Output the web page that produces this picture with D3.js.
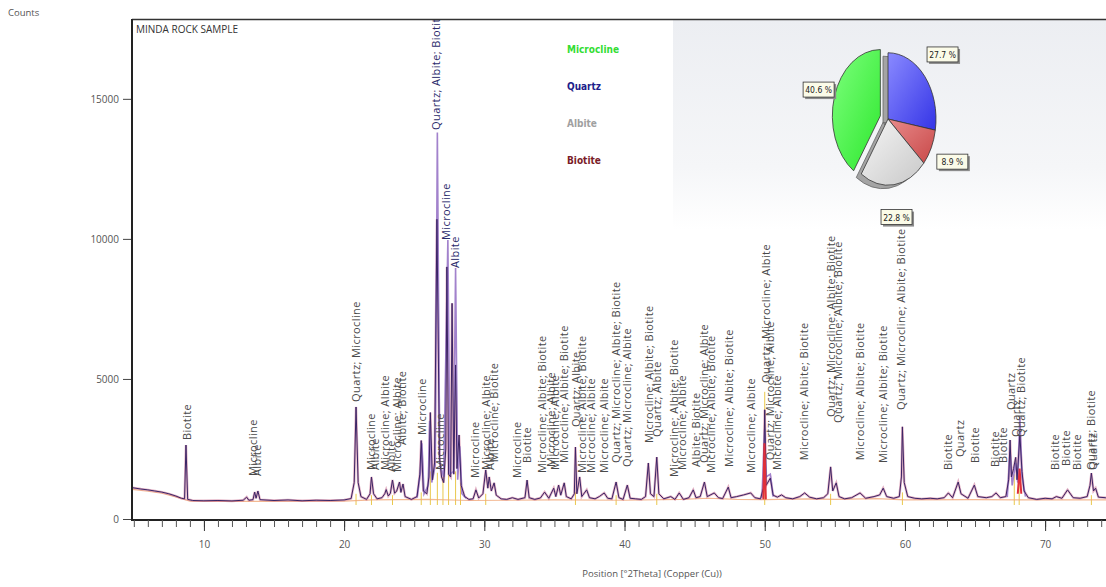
<!DOCTYPE html>
<html>
<head>
<meta charset="utf-8">
<script src="https://cdn.jsdelivr.net/npm/d3@7"></script>
<style>
body { margin: 0; background: #fff; }
svg text { font-family: 'Open Sans', 'DejaVu Sans', sans-serif; }
.peak-label { font-size: 11px; fill: #4a4a4a; letter-spacing: 0.4px; }
.axis-text { font-size: 10px; fill: #555; }
svg text.legend { font-family: 'DejaVu Sans Condensed', 'DejaVu Sans', sans-serif; font-weight: bold; font-size: 10px; }
svg text.pct { font-family: 'DejaVu Sans Condensed', 'DejaVu Sans', sans-serif; font-size: 8.5px; fill: #222; }
</style>
</head>
<body>
<div id="chart"></div>
<script>
const WIDTH = 1106
const HEIGHT = 587

// phases and their share (%)
const phases = ['Microcline', 'Quartz', 'Albite', 'Biotite']
const phaseShare = [40.6, 27.7, 22.8, 8.9]
const pieOrder = ['Quartz', 'Biotite', 'Albite', 'Microcline']

const yTicks = [0, 5000, 10000, 15000]
const xMajorTicks = [10, 20, 30, 40, 50, 60, 70]
const xMinorTicks = d3.range(5, 80, 1)

// measured pattern [2theta, counts]
const observed = [
    [4.87,1120],[5.5,1070],[6.0,1040],[6.5,1000],[7.0,960],[7.5,900],[8.0,820],[8.4,740],[8.62,720],[8.72,2640],[8.84,700],
    [9.2,660],[10.0,650],[11.0,660],[12.0,645],[12.8,670],[13.05,780],[13.2,670],[13.5,690],[13.62,960],[13.72,740],[13.85,1000],
    [14.0,690],[15.0,660],[16.0,680],[17.0,650],[18.0,670],[19.0,660],[20.0,680],[20.5,730],[20.72,1300],[20.85,4000],[21.0,1300],
    [21.2,800],[21.6,700],[21.85,900],[21.95,1500],[22.1,900],[22.35,720],[22.7,760],[22.9,900],[23.0,1050],[23.15,820],[23.3,920],
    [23.45,1390],[23.6,920],[23.75,1000],[23.95,1320],[24.05,950],[24.2,1250],[24.35,800],[24.8,700],[25.2,800],[25.4,1600],
    [25.5,2800],[25.65,1000],[25.9,900],[26.05,1500],[26.15,3800],[26.3,1400],[26.45,2000],[26.62,10700],[26.8,2200],[26.95,1500],
    [27.1,1300],[27.25,2500],[27.33,9000],[27.45,1600],[27.6,1500],[27.7,7700],[27.82,1600],[27.95,5500],[28.05,1800],[28.2,3000],
    [28.35,1200],[28.6,800],[28.9,700],[29.2,720],[29.4,1040],[29.6,750],[29.9,900],[30.1,1750],[30.25,1100],[30.35,1500],[30.5,1000],
    [30.7,1290],[30.85,850],[31.2,720],[31.6,700],[32.0,760],[32.4,700],[32.9,760],[33.05,1390],[33.2,760],[33.6,700],[34.0,750],
    [34.3,960],[34.6,740],[34.95,1100],[35.1,800],[35.3,1210],[35.45,850],[35.7,1290],[35.85,800],[36.2,720],[36.42,900],[36.5,2570],
    [36.6,900],[36.8,1500],[36.95,800],[37.3,1040],[37.5,760],[37.9,720],[38.2,800],[38.55,930],[38.8,740],[39.1,720],[39.4,1320],
    [39.6,760],[39.9,700],[40.2,1210],[40.4,740],[40.8,720],[41.2,700],[41.5,800],[41.7,2000],[41.85,900],[42.1,800],[42.3,2210],
    [42.45,900],[42.8,720],[43.3,800],[43.6,700],[43.9,930],[44.2,700],[44.6,760],[44.9,1040],[45.1,760],[45.4,800],[45.7,1320],
    [45.9,800],[46.4,930],[46.7,760],[47.0,730],[47.4,1140],[47.6,760],[48.0,800],[48.5,860],[49.0,930],[49.3,760],[49.7,720],
    [49.9,1100],[50.0,3900],[50.1,1200],[50.4,1460],[50.6,850],[50.9,780],[51.2,860],[51.5,760],[52.0,720],[52.5,800],[52.85,930],
    [53.2,780],[53.7,720],[54.2,760],[54.5,900],[54.7,1860],[54.85,1000],[55.1,1290],[55.3,800],[55.7,720],[56.2,760],[56.8,930],
    [57.2,740],[57.8,800],[58.2,860],[58.45,1100],[58.7,800],[59.2,740],[59.6,800],[59.75,1500],[59.82,3290],[59.95,1300],[60.2,800],
    [60.7,740],[61.2,720],[61.8,740],[62.3,720],[62.8,760],[63.1,930],[63.4,760],[63.8,1320],[64.0,900],[64.5,740],[64.95,1210],
    [65.2,800],[65.8,760],[66.2,800],[66.5,930],[66.8,760],[67.2,800],[67.4,1400],[67.5,2820],[67.6,1500],[67.75,1800],[67.9,2200],
    [68.0,1400],[68.2,3000],[68.35,1700],[68.5,1000],[68.8,760],[69.4,700],[70.0,740],[70.5,720],[70.8,800],[71.2,740],[71.6,1040],
    [72.0,760],[72.5,740],[73.0,800],[73.2,1200],[73.3,1640],[73.45,1000],[73.6,1100],[73.8,780],[74.3,760],[75.0,740],[76.0,720]
]

// calculated profile on the strong reflections
const fitSegments = [
    [[25.2,760],[25.45,1700],[25.55,2700],[25.7,900],[26.0,1200],[26.1,3500],[26.25,1300],[26.5,1900],[26.65,13800],[26.82,2000],
     [27.1,1500],[27.4,9960],[27.55,1600],[27.8,1700],[27.95,8960],[28.1,1400],[28.25,2600],[28.4,900],[28.7,740]],
    [[49.8,760],[50.0,3200],[50.1,1500],[50.4,1600],[50.6,800]],
    [[67.3,780],[67.5,2400],[67.65,1200],[67.9,2000],[68.05,1300],[68.2,3640],[68.35,1500],[68.6,800]]
]

const redSegments = [
    [[49.9,700],[49.98,2700],[50.08,700]],
    [[68.05,900],[68.18,1800],[68.3,900]]
]

const bgLine = [
    [4.87,1060],[6,990],[7,920],[8,790],[9,640],[12,630],[20,640],[22,680],[26,700],[29,660],[35,680],[40,670],
    [44,700],[46,740],[48,700],[50,690],[53,720],[55,700],[58,730],[60,680],[65,690],[70,680],[80,680]
]

// reference pattern sticks [2theta, counts]
const refSticks = [
    [20.85,900],[21.95,850],[23.45,850],[25.5,950],[26.15,1700],[26.65,1650],[27.05,1500],[27.45,1650],[27.95,1700],[28.3,1300],
    [30.1,900],[36.5,950],[39.4,850],[42.3,900],[50.0,4540],[54.7,900],[59.82,950],[67.8,1600],[68.15,1500],[73.3,850]
]

// peak identification labels [2theta, counts, text]
const peakLabels = [
    [8.79,2820,'Biotite'],[13.49,1535,'Microcline'],[13.77,1535,'Albite'],[20.89,4180,'Quartz; Microcline'],
    [21.96,1750,'Microcline'],[22.24,1750,'Albite'],[22.95,1750,'Microcline; Albite'],[23.38,1680,'Albite'],
    [23.81,1680,'Microcline; Albite'],[24.16,2640,'Albite; Biotite'],[25.58,3000,'Microcline'],
    [26.58,13890,'Quartz; Albite; Biotite'],[26.87,1750,'Microcline'],[27.29,9960,'Microcline'],[27.94,8960,'Albite'],
    [29.36,1460,'Microcline'],[30.14,1750,'Microcline; Albite'],[30.43,1750,'Albite'],[30.71,2030,'Microcline; Biotite'],
    [32.35,1460,'Microcline'],[33.06,2000,'Biotite'],[34.13,1640,'Microcline; Albite; Biotite'],[34.77,1860,'Microcline; Albite'],
    [35.05,1750,'Microcline; Albite'],[35.69,2000,'Microcline; Albite; Biotite'],[36.55,3280,'Quartz; Albite'],
    [36.97,1640,'Microcline; Albite; Biotite'],[37.61,1640,'Microcline; Albite'],[38.54,1640,'Microcline; Albite'],
    [39.39,2000,'Quartz; Microcline; Albite; Biotite'],[40.18,1860,'Quartz; Microcline; Albite'],
    [41.74,2710,'Microcline; Albite; Biotite'],[42.31,2930,'Quartz; Albite'],[43.52,1500,'Microcline; Albite; Biotite'],
    [44.09,1750,'Microcline; Albite'],[45.09,1860,'Albite; Biotite'],[45.66,2000,'Quartz; Microcline; Albite'],
    [46.15,1640,'Microcline; Albite; Biotite'],[47.44,1860,'Microcline; Albite; Biotite'],[49.0,1640,'Microcline; Albite'],
    [50.07,4855,'Quartz; Microcline; Albite'],[50.4,2100,'Quartz; Microcline; Albite'],[50.9,1750,'Microcline; Albite'],
    [52.78,2100,'Microcline; Albite; Biotite'],[54.77,3640,'Quartz; Microcline; Albite; Biotite'],
    [55.27,3430,'Quartz; Microcline; Albite; Biotite'],[56.83,2100,'Microcline; Albite; Biotite'],
    [58.47,2000,'Microcline; Albite; Biotite'],[59.75,3890,'Quartz; Microcline; Albite; Biotite'],[63.1,1750,'Biotite'],
    [63.95,2210,'Quartz'],[65.02,2000,'Biotite'],[66.44,1860,'Biotite'],[67.0,2000,'Biotite'],[67.58,3890,'Quartz'],
    [67.93,2930,'Quartz'],[68.29,2930,'Quartz; Biotite'],[70.71,1750,'Biotite'],[71.5,1890,'Biotite'],[72.28,1750,'Biotite'],
    [73.27,1750,'Quartz; Biotite'],[73.42,1750,'Quartz']
]

let svg = d3.select('#chart')
    .append('svg')
    .attr('width', WIDTH)
    .attr('height', HEIGHT)

let defs = svg.append('defs')

const xScale = d3.scaleLinear().domain([4.87, 80]).range([132, 132 + 75.13 * 14.02])
const yScale = d3.scaleLinear().domain([0, 17850]).range([519, 19])

defs.append('clipPath').attr('id', 'plotClip')
    .append('rect')
    .attr('x', 132).attr('y', 20)
    .attr('width', WIDTH - 132).attr('height', 499)

// grey panel behind the pie
let panelGrad = defs.append('linearGradient').attr('id', 'panelGrad')
    .attr('x1', 0).attr('y1', 0).attr('x2', 0).attr('y2', 1)
panelGrad.append('stop').attr('offset', '0%').attr('stop-color', '#eceef2')
panelGrad.append('stop').attr('offset', '70%').attr('stop-color', '#f5f6f8')
panelGrad.append('stop').attr('offset', '100%').attr('stop-color', '#ffffff')

svg.append('rect')
    .attr('x', 673).attr('y', 20)
    .attr('width', WIDTH - 673).attr('height', 210)
    .attr('fill', 'url(#panelGrad)')

let plot = svg.append('g').attr('clip-path', 'url(#plotClip)')

let line = d3.line().x(d => xScale(d[0])).y(d => yScale(d[1]))

// reference sticks
plot.selectAll('.stick')
    .data(refSticks)
    .join('line')
    .attr('class', 'stick')
    .attr('x1', d => xScale(d[0])).attr('x2', d => xScale(d[0]))
    .attr('y1', yScale(500)).attr('y2', d => yScale(d[1]))
    .attr('stroke', '#e9c84c')
    .attr('stroke-width', 1)

plot.append('path')
    .datum(bgLine)
    .attr('d', line)
    .attr('fill', 'none')
    .attr('stroke', '#f0a878')
    .attr('stroke-width', 1.2)
    .attr('opacity', 0.8)

// pink halo + calculated profile
plot.append('path')
    .datum(observed)
    .attr('d', line)
    .attr('fill', 'none')
    .attr('stroke', '#c8648a')
    .attr('stroke-width', 2.4)
    .attr('opacity', 0.5)

plot.selectAll('.fit')
    .data(fitSegments)
    .join('path')
    .attr('class', 'fit')
    .attr('d', line)
    .attr('fill', 'none')
    .attr('stroke', '#a282cc')
    .attr('stroke-width', 1.6)

plot.append('path')
    .datum(observed)
    .attr('d', line)
    .attr('fill', 'none')
    .attr('stroke', '#3a2465')
    .attr('stroke-width', 1)

plot.selectAll('.red')
    .data(redSegments)
    .join('path')
    .attr('class', 'red')
    .attr('d', line)
    .attr('fill', 'none')
    .attr('stroke', '#e0303a')
    .attr('stroke-width', 2)

plot.selectAll('.peak-label')
    .data(peakLabels)
    .join('text')
    .attr('class', 'peak-label')
    .attr('transform', d => `translate(${xScale(d[0])},${yScale(d[1])}) rotate(-90)`)
    .attr('dy', '0.35em')
    .style('fill', d => d[1] > 8000 ? '#2b2b6b' : null)
    .text(d => d[2])

// frame
svg.append('line').attr('x1', 132).attr('x2', WIDTH).attr('y1', 19.5).attr('y2', 19.5)
    .attr('stroke', '#333').attr('stroke-width', 1.5)
svg.append('line').attr('x1', 132).attr('x2', 132).attr('y1', 19).attr('y2', 520)
    .attr('stroke', '#222').attr('stroke-width', 2)
svg.append('line').attr('x1', 131).attr('x2', WIDTH).attr('y1', 520).attr('y2', 520)
    .attr('stroke', '#222').attr('stroke-width', 2)

// axes
let yAxis = svg.append('g')
    .attr('transform', 'translate(131,0)')
    .call(d3.axisLeft(yScale).tickValues(yTicks).tickSize(8).tickPadding(4).tickFormat(d3.format('d')))
yAxis.select('.domain').remove()
yAxis.selectAll('line').attr('stroke', '#444')
yAxis.selectAll('text').attr('class', 'axis-text').attr('font-size', null).attr('font-family', null)

let xMinor = svg.append('g')
    .attr('transform', 'translate(0,520)')
    .call(d3.axisBottom(xScale).tickValues(xMinorTicks).tickSize(7).tickFormat(''))
xMinor.select('.domain').remove()
xMinor.selectAll('line').attr('stroke', '#555')

let xMajor = svg.append('g')
    .attr('transform', 'translate(0,520)')
    .call(d3.axisBottom(xScale).tickValues(xMajorTicks).tickSize(11).tickPadding(10))
xMajor.select('.domain').remove()
xMajor.selectAll('line').attr('stroke', '#333')
xMajor.selectAll('text').attr('class', 'axis-text').attr('font-size', null).attr('font-family', null)

svg.append('text').attr('class', 'axis-text')
    .attr('x', 8).attr('y', 16)
    .style('font-size', '9.5px')
    .text('Counts')

svg.append('text')
    .attr('x', 136).attr('y', 33)
    .style('font-size', '10px').style('fill', '#333')
    .text('MINDA ROCK SAMPLE')

svg.append('text').attr('class', 'axis-text')
    .attr('x', 652).attr('y', 577)
    .attr('text-anchor', 'middle')
    .style('font-size', '9.5px')
    .text('Position [°2Theta] (Copper (Cu))')

// legend
const colorScale = d3.scaleOrdinal()
    .domain(phases)
    .range(['#33dd33', '#1e1e8a', '#a0a0a0', '#7a1c28'])

let legendY = d3.scalePoint().domain(phases).range([53, 164])

svg.selectAll('.legend')
    .data(phases)
    .join('text')
    .attr('class', 'legend')
    .attr('x', 567)
    .attr('y', d => legendY(d))
    .style('fill', d => colorScale(d))
    .text(d => d)

// pie (squashed vertically for the 3d look)
const pieFill = d3.scaleOrdinal()
    .domain(phases)
    .range([['#7dff7d', '#2ee82e'], ['#8a8aff', '#3434e6'], ['#f6f6f6', '#c8c8c8'], ['#e88a8a', '#c84848']])

phases.forEach((p, i) => {
    let g = defs.append('linearGradient').attr('id', 'grad' + i)
        .attr('x1', 0).attr('y1', 0).attr('x2', 1).attr('y2', 1)
    g.append('stop').attr('offset', '0%').attr('stop-color', pieFill(p)[0])
    g.append('stop').attr('offset', '100%').attr('stop-color', pieFill(p)[1])
})

const pieR = 48
const squash = 1.38
let pieData = pieOrder.map(name => ({name: name, share: phaseShare[phases.indexOf(name)]}))
let arcs = d3.pie().sort(null).value(d => d.share)(pieData)
let arc = d3.arc().innerRadius(0).outerRadius(pieR)
let labelArc = d3.arc().innerRadius(72).outerRadius(72)

function explode(d) {
    if (d.data.name !== 'Microcline') return [0, 0]
    let mid = (d.startAngle + d.endAngle) / 2
    return [8 * Math.sin(mid), -8 * Math.cos(mid)]
}

let pieG = svg.append('g').attr('transform', `translate(888,119) scale(1,${squash})`)

// side walls of the non exploded slices
pieG.selectAll('.wall')
    .data(arcs.filter(d => d.data.name !== 'Microcline'))
    .join('path')
    .attr('class', 'wall')
    .attr('transform', 'translate(-5,2.5)')
    .attr('d', arc)
    .attr('fill', '#a4a4a4')
    .attr('stroke', '#666')
    .attr('stroke-width', 0.8)
    .attr('vector-effect', 'non-scaling-stroke')

pieG.selectAll('.slice')
    .data(arcs)
    .join('path')
    .attr('class', 'slice')
    .attr('transform', d => `translate(${explode(d)[0]},${explode(d)[1]})`)
    .attr('d', arc)
    .attr('fill', d => `url(#grad${phases.indexOf(d.data.name)})`)
    .attr('stroke', '#333')
    .attr('stroke-width', 0.8)
    .attr('vector-effect', 'non-scaling-stroke')

let pctG = svg.selectAll('.pct-box')
    .data(arcs)
    .join('g')
    .attr('class', 'pct-box')
    .attr('transform', d => {
        let c = labelArc.centroid(d)
        return `translate(${888 + c[0]},${119 + c[1] * squash})`
    })

pctG.append('rect')
    .attr('x', -14).attr('y', -6).attr('width', 31).attr('height', 15)
    .attr('fill', '#8c8c8c')
pctG.append('rect')
    .attr('x', -16).attr('y', -8).attr('width', 31).attr('height', 15)
    .attr('fill', '#fbfbe8')
    .attr('stroke', '#333')
    .attr('stroke-width', 0.8)
pctG.append('text')
    .attr('class', 'pct')
    .attr('x', -0.5).attr('y', 3)
    .attr('text-anchor', 'middle')
    .text(d => d.data.share.toFixed(1) + ' %')
</script>
</body>
</html>
